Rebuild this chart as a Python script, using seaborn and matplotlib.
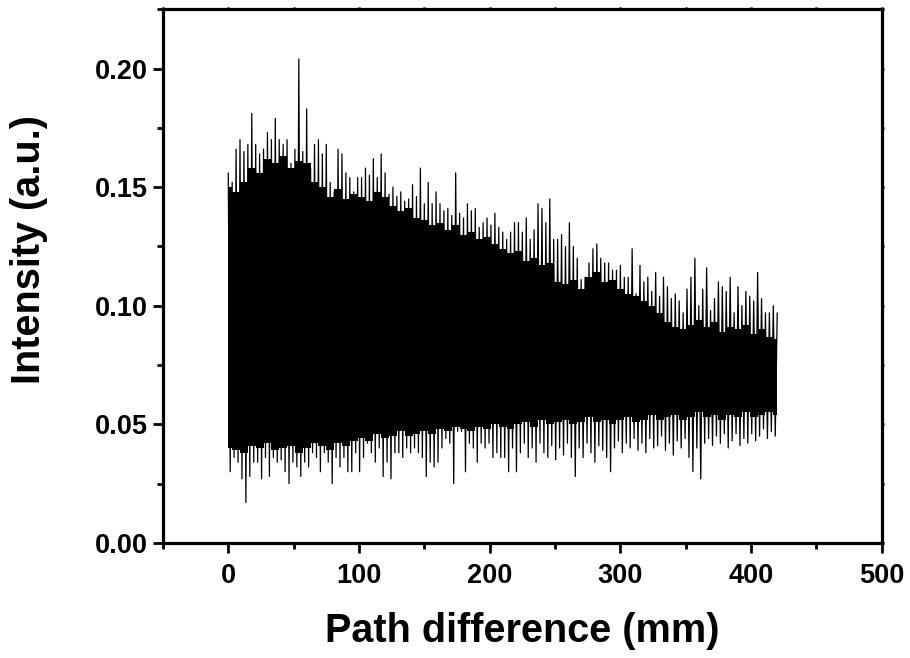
import numpy as np
import pandas as pd
import matplotlib
matplotlib.use('Agg')
import matplotlib.pyplot as plt
from matplotlib.ticker import MultipleLocator, FormatStrFormatter
import seaborn as sns

# Envelope do sinal: picos (máximos) e vales (mínimos)
# amostrados a cada 3 mm; os vales ficam deslocados meio passo
passo_mm = 3.0

picos = [
    0.156, 0.152, 0.166, 0.170, 0.165, 0.168, 0.181, 0.168, 0.164, 0.166,
    0.173, 0.170, 0.179, 0.170, 0.168, 0.170, 0.160, 0.166, 0.204, 0.165,
    0.183, 0.158, 0.168, 0.170, 0.164, 0.168, 0.152, 0.148, 0.166, 0.164,
    0.156, 0.154, 0.148, 0.154, 0.154, 0.158, 0.155, 0.162, 0.154, 0.164,
    0.156, 0.147, 0.150, 0.146, 0.148, 0.144, 0.145, 0.151, 0.146, 0.158,
    0.143, 0.152, 0.143, 0.148, 0.143, 0.140, 0.141, 0.138, 0.156, 0.139,
    0.137, 0.143, 0.140, 0.141, 0.133, 0.135, 0.137, 0.134, 0.139, 0.133,
    0.131, 0.128, 0.131, 0.135, 0.135, 0.131, 0.137, 0.128, 0.132, 0.143,
    0.141, 0.135, 0.145, 0.128, 0.128, 0.130, 0.125, 0.135, 0.125, 0.120,
    0.111, 0.112, 0.118, 0.124, 0.126, 0.120, 0.118, 0.118, 0.115, 0.115,
    0.117, 0.112, 0.112, 0.124, 0.105, 0.117, 0.110, 0.112, 0.106, 0.114,
    0.104, 0.112, 0.108, 0.103, 0.105, 0.102, 0.097, 0.107, 0.112, 0.120,
    0.100, 0.107, 0.116, 0.098, 0.103, 0.110, 0.108, 0.106, 0.112, 0.097,
    0.108, 0.100, 0.106, 0.104, 0.102, 0.114, 0.103, 0.097, 0.097, 0.100,
    0.097,
]

vales = [
    0.030, 0.036, 0.034, 0.027, 0.017, 0.028, 0.034, 0.034, 0.027, 0.036,
    0.028, 0.036, 0.034, 0.035, 0.030, 0.025, 0.034, 0.032, 0.028, 0.034,
    0.032, 0.038, 0.036, 0.030, 0.038, 0.034, 0.025, 0.036, 0.032, 0.036,
    0.030, 0.030, 0.038, 0.030, 0.036, 0.042, 0.038, 0.034, 0.040, 0.028,
    0.034, 0.027, 0.038, 0.038, 0.036, 0.040, 0.038, 0.040, 0.038, 0.036,
    0.028, 0.034, 0.032, 0.034, 0.040, 0.044, 0.042, 0.025, 0.047, 0.047,
    0.030, 0.042, 0.040, 0.034, 0.042, 0.040, 0.042, 0.036, 0.038, 0.036,
    0.036, 0.030, 0.040, 0.030, 0.038, 0.042, 0.036, 0.040, 0.034, 0.042,
    0.038, 0.036, 0.041, 0.035, 0.040, 0.037, 0.042, 0.036, 0.028, 0.040,
    0.036, 0.042, 0.038, 0.034, 0.041, 0.039, 0.036, 0.030, 0.040, 0.043,
    0.038, 0.042, 0.040, 0.044, 0.039, 0.042, 0.038, 0.044, 0.040, 0.041,
    0.045, 0.039, 0.042, 0.037, 0.043, 0.040, 0.044, 0.036, 0.030, 0.040,
    0.027, 0.042, 0.044, 0.041, 0.045, 0.042, 0.046, 0.040, 0.043, 0.046,
    0.041, 0.044, 0.042, 0.046, 0.043, 0.045, 0.048, 0.044, 0.047, 0.045,
]

# Faixa totalmente preta (oscilação densa), lida a cada 6 mm
passo_nucleo_mm = 6.0
nucleo_sup = [
    0.150, 0.148, 0.152, 0.158, 0.156, 0.162, 0.160, 0.163, 0.158, 0.161,
    0.160, 0.152, 0.150, 0.146, 0.149, 0.145, 0.147, 0.146, 0.144, 0.148,
    0.146, 0.142, 0.140, 0.141, 0.137, 0.136, 0.134, 0.135, 0.132, 0.134,
    0.130, 0.131, 0.128, 0.129, 0.126, 0.124, 0.122, 0.123, 0.119, 0.120,
    0.117, 0.118, 0.110, 0.109, 0.111, 0.107, 0.112, 0.114, 0.110, 0.111,
    0.107, 0.105, 0.104, 0.102, 0.100, 0.097, 0.093, 0.091, 0.090, 0.092,
    0.094, 0.091, 0.093, 0.089, 0.091, 0.090, 0.092, 0.088, 0.090, 0.087,
    0.086,
]
nucleo_inf = [
    0.040, 0.039, 0.038, 0.041, 0.040, 0.042, 0.039, 0.040, 0.041, 0.038,
    0.040, 0.042, 0.041, 0.039, 0.042, 0.041, 0.043, 0.044, 0.043, 0.046,
    0.044, 0.045, 0.047, 0.045, 0.046, 0.047, 0.046, 0.048, 0.047, 0.049,
    0.048, 0.047, 0.049, 0.048, 0.050, 0.049, 0.048, 0.050, 0.051, 0.049,
    0.052, 0.050, 0.051, 0.052, 0.050, 0.051, 0.053, 0.051, 0.052, 0.050,
    0.052, 0.053, 0.051, 0.052, 0.054, 0.052, 0.053, 0.054, 0.052, 0.053,
    0.055, 0.053, 0.054, 0.052, 0.054, 0.053, 0.055, 0.053, 0.054, 0.055,
    0.054,
]

# Montar o sinal intercalando picos e vales
x_picos = passo_mm * np.arange(len(picos))
x_vales = passo_mm * np.arange(len(vales)) + passo_mm / 2
x_sinal = np.empty(len(picos) + len(vales))
y_sinal = np.empty_like(x_sinal)
x_sinal[0::2] = x_picos
y_sinal[0::2] = picos
x_sinal[1::2] = x_vales
y_sinal[1::2] = vales
df = pd.DataFrame({'path': x_sinal, 'intensity': y_sinal})
x_nucleo = passo_nucleo_mm * np.arange(len(nucleo_sup))

sns.set_style('ticks')
plt.rcParams['font.family'] = ['Liberation Sans', 'DejaVu Sans']
plt.rcParams['font.weight'] = 'bold'
plt.rcParams['text.color'] = 'black'
plt.rcParams['axes.labelcolor'] = 'black'

fig = plt.figure(figsize=(9.1, 6.58), dpi=100)
ax = fig.add_axes([0.179, 0.175, 0.790, 0.811])

ax.fill_between(x_nucleo, nucleo_inf, nucleo_sup, step='mid',
                color='black', linewidth=0)
sns.lineplot(data=df, x='path', y='intensity', color='black',
             linewidth=0.9, estimator=None, sort=False, ax=ax)

ax.set_xlim(-50, 500)
ax.set_ylim(0, 0.225)
ax.xaxis.set_major_locator(MultipleLocator(100))
ax.xaxis.set_minor_locator(MultipleLocator(50))
ax.yaxis.set_major_locator(MultipleLocator(0.05))
ax.yaxis.set_minor_locator(MultipleLocator(0.025))
ax.yaxis.set_major_formatter(FormatStrFormatter('%.2f'))

for lado in ['left', 'right', 'top', 'bottom']:
    ax.spines[lado].set_visible(True)
    ax.spines[lado].set_linewidth(2.3)
    ax.spines[lado].set_color('black')

ax.tick_params(axis='both', which='major', direction='out', length=7.5,
               width=2, labelsize=19.5, colors='black')
ax.tick_params(axis='both', which='minor', direction='out', length=4,
               width=2, colors='black')
ax.tick_params(axis='x', which='major', pad=7)
ax.tick_params(axis='y', which='major', pad=3)
ax.tick_params(top=True, right=True, which='both')
for t in ax.xaxis.get_major_ticks() + ax.xaxis.get_minor_ticks():
    t.tick2line.set_markersize(1.5)
for t in ax.yaxis.get_major_ticks() + ax.yaxis.get_minor_ticks():
    t.tick2line.set_markersize(1.5)

ax.set_xlabel('Path difference (mm)', fontsize=28.5, fontweight='bold')
ax.set_ylabel('Intensity (a.u.)', fontsize=28.5, fontweight='bold')
ax.xaxis.set_label_coords(0.5, -0.13)
ax.yaxis.set_label_coords(-0.16, 0.55)

fig.savefig('out.png', dpi=100)
